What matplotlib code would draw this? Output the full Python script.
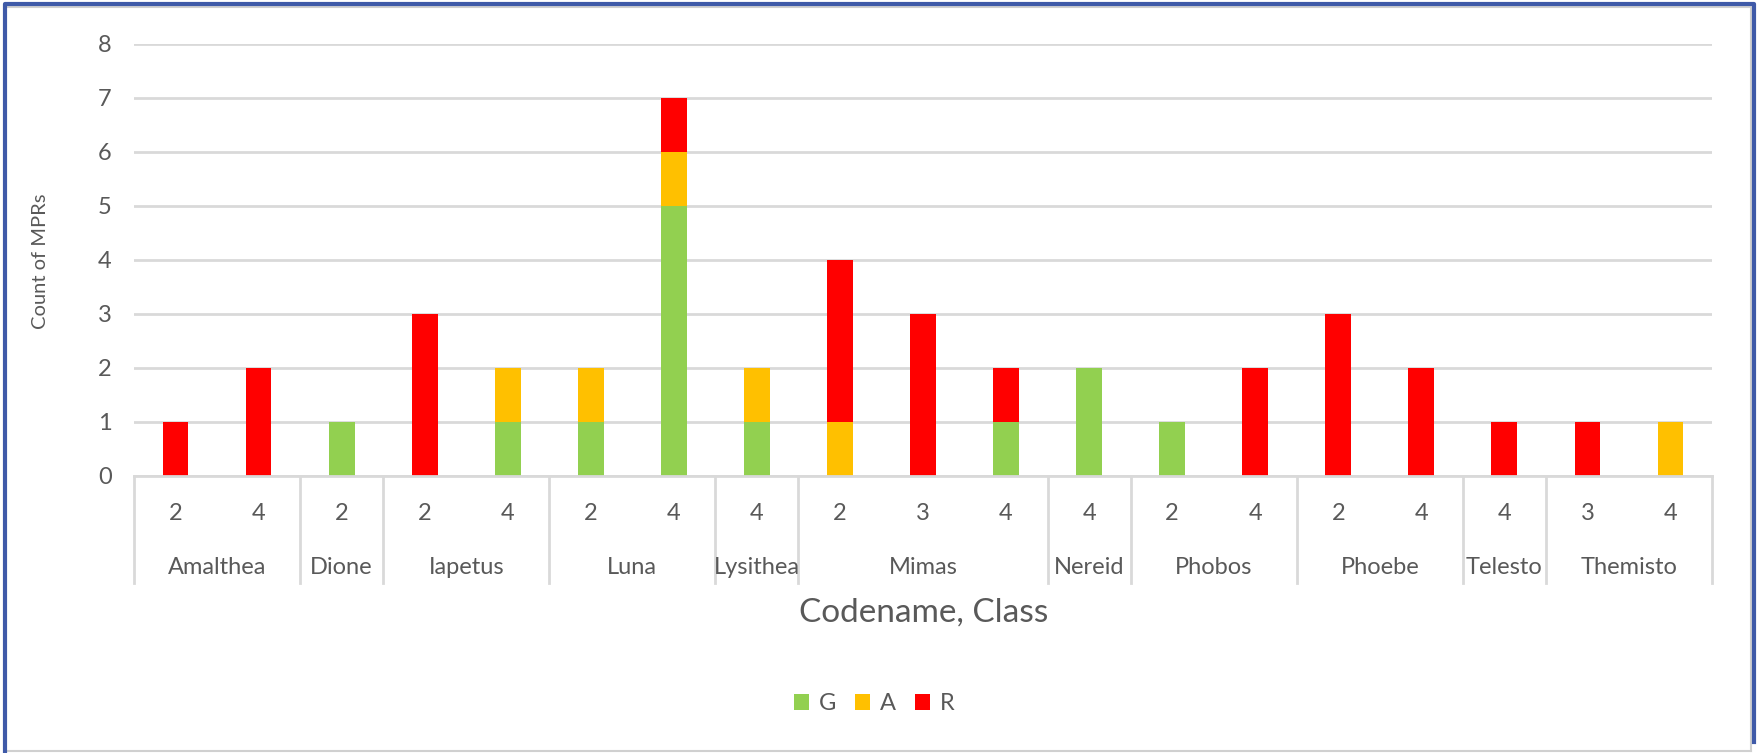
"""Stacked count of MPRs by codename and class (G / A / R)."""

import matplotlib.pyplot as plt
from matplotlib.lines import Line2D
from matplotlib.patches import Patch
import numpy as np

plt.rcParams["font.family"] = ["Lato", "DejaVu Sans"]

# Data: one entry per (codename, class) column
codenames = ["Amalthea", "Amalthea", "Dione", "Iapetus", "Iapetus", "Luna", "Luna",
             "Lysithea", "Mimas", "Mimas", "Mimas", "Nereid", "Phobos", "Phobos",
             "Phoebe", "Phoebe", "Telesto", "Themisto", "Themisto"]
classes = ["2", "4", "2", "2", "4", "2", "4", "4", "2", "3", "4", "4", "2", "4",
           "2", "4", "4", "3", "4"]
g_counts = [0, 0, 1, 0, 1, 1, 5, 1, 0, 0, 1, 2, 1, 0, 0, 0, 0, 0, 0]
a_counts = [0, 0, 0, 0, 1, 1, 1, 1, 1, 0, 0, 0, 0, 0, 0, 0, 0, 0, 1]
r_counts = [1, 2, 0, 3, 0, 0, 1, 0, 3, 3, 1, 0, 0, 2, 3, 2, 1, 1, 0]

colors = {"G": "#92D050", "A": "#FFC000", "R": "#FF0000"}
text_color = "#595959"
grid_color = "#D9D9D9"

W, H = 1762, 753
fig = plt.figure(figsize=(W / 100, H / 100), dpi=100)

# plot area in pixels
x0, x1 = 134, 1712
y_top, y_zero, y_box = 44, 476, 583
ax = fig.add_axes([x0 / W, 1 - y_zero / H, (x1 - x0) / W, (y_zero - y_top) / H])

x = np.arange(len(classes))
g = np.array(g_counts)
a = np.array(a_counts)
r = np.array(r_counts)
width = 0.31
ax.bar(x, g, width, color=colors["G"], zorder=3)
ax.bar(x, a, width, bottom=g, color=colors["A"], zorder=3)
ax.bar(x, r, width, bottom=g + a, color=colors["R"], zorder=3)

ax.set_xlim(-0.5, len(classes) - 0.5)
ax.set_ylim(0, 8)
ax.set_yticks(range(0, 9))
ax.yaxis.grid(True, color=grid_color, linewidth=2.0, zorder=0)
ax.tick_params(axis="y", length=0, pad=16, labelsize=17, labelcolor=text_color)
ax.set_xticks([])
for s in ["top", "right", "left"]:
    ax.spines[s].set_visible(False)
ax.spines["bottom"].set_color(grid_color)
ax.spines["bottom"].set_linewidth(2.0)
ax.spines["bottom"].set_zorder(4)

# multi-level category axis
ax_h = y_zero - y_top
box_depth = -(y_box - y_zero) / ax_h
trans = ax.get_xaxis_transform()
for xi, c in zip(x, classes):
    ax.text(xi, -(514 - y_zero) / ax_h, c, transform=trans, ha="center", va="center",
            fontsize=17, color=text_color)

groups = []
for i, name in enumerate(codenames):
    if not groups or groups[-1][0] != name:
        groups.append([name, i, i])
    else:
        groups[-1][2] = i
edges = [-0.5] + [grp[2] + 0.5 for grp in groups]
for e in edges:
    ax.add_line(Line2D([e, e], [0, box_depth], transform=trans, color=grid_color,
                       linewidth=2.0, clip_on=False))
for name, i0, i1 in groups:
    ax.text((i0 + i1) / 2, -(567 - y_zero) / ax_h, name, transform=trans, ha="center",
            va="center", fontsize=17, color=text_color)

fig.text(924 / W, 1 - 613 / H, "Codename, Class", ha="center", va="center",
         fontsize=24, color=text_color)
fig.text(40 / W, 1 - 261 / H, "Count of MPRs", ha="center", va="center",
         rotation=90, fontsize=14.5, color=text_color)

handles = [Patch(facecolor=colors[k], edgecolor="none", label=k) for k in ["G", "A", "R"]]
fig.legend(handles=handles, loc="center", bbox_to_anchor=(874 / W, 1 - 704 / H), ncol=3,
           frameon=False, fontsize=17, labelcolor=text_color, handlelength=0.65,
           handleheight=0.65, handletextpad=0.4, columnspacing=0.8)

# chart frame: light grey inner border, blue outer outline
fig.add_artist(Line2D([8 / W, 1751 / W, 1751 / W], [1 - 7 / H, 1 - 7 / H, 1 - 751 / H],
                      color="#D0D0D0", linewidth=1.5))
fig.add_artist(Line2D([8 / W, 1751 / W], [1 - 751 / H, 1 - 751 / H], color="#D0D0D0",
                      linewidth=1.5))
fig.add_artist(Line2D([5 / W, 5 / W, 1754 / W, 1754 / W], [0, 1 - 4 / H, 1 - 4 / H, 1 - 742 / H],
                      color="#3F5AA8", linewidth=3))

fig.savefig("out.png", dpi=100)
